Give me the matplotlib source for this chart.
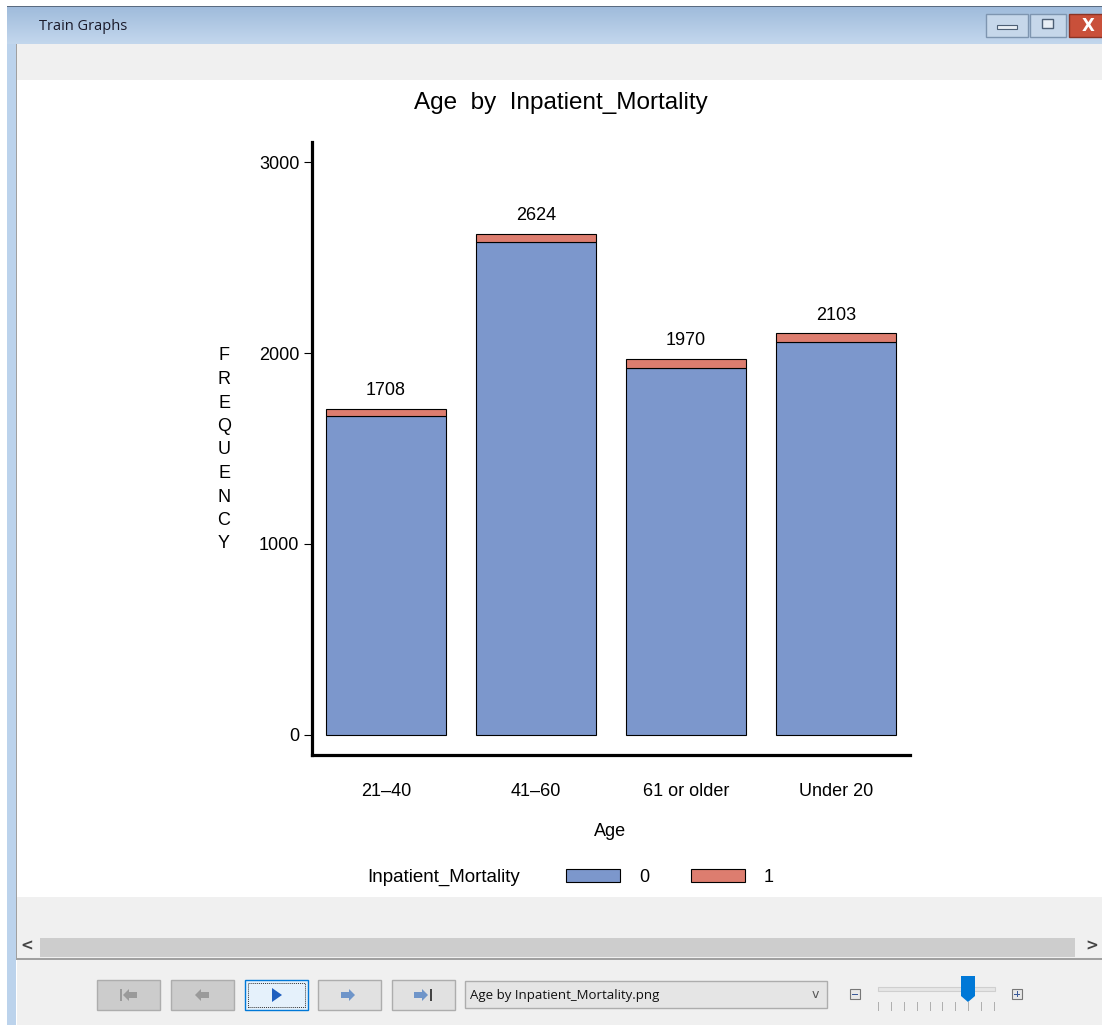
import numpy as np
import matplotlib
matplotlib.use("Agg")
import matplotlib.pyplot as plt
from matplotlib.patches import Rectangle, Polygon

# data
age_groups = ["21\u201240", "41\u201260", "61 or older", "Under 20"]
totals = [1708, 2624, 1970, 2103]
died = [40, 45, 50, 45]          # Inpatient_Mortality = 1
survived = [t - d for t, d in zip(totals, died)]   # Inpatient_Mortality = 0
mortality_levels = ["0", "1"]
yticks = [0, 1000, 2000, 3000]

BLUE = "#7c97cc"
RED = "#dd7d6f"

W, H = 1102, 1025
plt.rcParams["font.family"] = ["Liberation Sans", "DejaVu Sans"]

fig = plt.figure(figsize=(W / 100, H / 100), dpi=100)
fig.patch.set_facecolor("white")


def box(x, y, w, h, **kw):
    """rectangle in screen pixels, origin top-left"""
    r = Rectangle((x / W, 1 - (y + h) / H), w / W, h / H,
                  transform=fig.transFigure, **kw)
    fig.add_artist(r)
    return r


def poly(pts, **kw):
    p = Polygon([(x / W, 1 - y / H) for x, y in pts], closed=True,
                transform=fig.transFigure, **kw)
    fig.add_artist(p)
    return p


def txt(x, y, s, **kw):
    return fig.text(x / W, 1 - y / H, s, **kw)


# ---- window chrome ----
# title bar with a vertical gradient
grad = np.linspace(0, 1, 64).reshape(-1, 1)
cax = fig.add_axes([7 / W, 1 - 44 / H, (W - 7) / W, 38 / H])
cax.imshow(grad, aspect="auto", cmap=matplotlib.colors.LinearSegmentedColormap.from_list(
    "tb", ["#9fbbdb", "#c3d7ed"]), extent=[0, 1, 0, 1])
cax.axis("off")
box(7, 6, W - 7, 1, color="#5a6b80", lw=0)
box(7, 44, 9, H - 44, color="#bcd3ec", lw=0)
txt(39, 26, "Train Graphs", fontsize=10.5, va="center", color="#1a1a2a",
    family=["Open Sans", "DejaVu Sans"])

# min / max / close buttons
box(986, 14, 42, 23, facecolor="#c6d7ea", edgecolor="#7e95b0", lw=1)
box(997, 25, 20, 4, facecolor="#e8eef5", edgecolor="#4d5f75", lw=0.8)
box(1030, 14, 36, 23, facecolor="#c6d7ea", edgecolor="#7e95b0", lw=1)
box(1042, 19, 11, 9, facecolor="#e8eef5", edgecolor="#4d5f75", lw=1)
box(1069, 14, 40, 23, facecolor="#c9503a", edgecolor="#8a3325", lw=1)
txt(1088, 26, "X", fontsize=12, fontweight="bold", color="white",
    ha="center", va="center", family=["DejaVu Sans"])

# grey panels around the graph
box(16, 44, W - 16, 36, color="#f0f0f0", lw=0)
box(16, 897, W - 16, 40, color="#f0f0f0", lw=0)
box(16, 937, W - 16, 21, color="#f0f0f0", lw=0)
box(40, 938, 1035, 19, color="#cdcdcd", lw=0)
txt(27, 946, "<", fontsize=11, ha="center", va="center", color="#444444",
    fontweight="bold", family=["DejaVu Sans"])
txt(1092, 946, ">", fontsize=11, ha="center", va="center", color="#444444",
    fontweight="bold", family=["DejaVu Sans"])
box(16, 958, W - 16, 1.5, color="#a0a0a0", lw=0)
box(15.5, 44, 1.2, 915, color="#a0a0a0", lw=0)
box(17, 960, W - 17, H - 960, color="#f0f0f0", lw=0)

# bottom toolbar buttons
btn_x = [97, 171, 245, 318, 392]
for i, bx in enumerate(btn_x):
    if i == 2:
        box(bx, 980, 63, 30, facecolor="#e5f1fb", edgecolor="#0078d7", lw=1)
        box(bx + 3, 983, 57, 24, facecolor="none", edgecolor="#333333",
            lw=0.7, ls=(0, (1, 1)))
    else:
        box(bx, 980, 63, 30, facecolor="#e1e1e1" if i > 2 else "#cccccc",
            edgecolor="#adadad", lw=1)
grey, blu = "#9a9a9a", "#6f95c9"
# |<-  and  <-
box(120, 989, 2, 12, color=grey, lw=0)
poly([(123, 995), (129, 989), (129, 992), (137, 992), (137, 998), (129, 998), (129, 1001)], color=grey, lw=0)
poly([(195, 995), (201, 989), (201, 992), (209, 992), (209, 998), (201, 998), (201, 1001)], color=grey, lw=0)
# play
poly([(272, 988), (282, 995), (272, 1002)], color="#1f5fbf", lw=0)
# ->  and  ->|
poly([(355, 995), (349, 989), (349, 992), (341, 992), (341, 998), (349, 998), (349, 1001)], color=blu, lw=0)
poly([(428, 995), (422, 989), (422, 992), (414, 992), (414, 998), (422, 998), (422, 1001)], color=blu, lw=0)
box(430, 989, 2, 12, color="#444444", lw=0)

# combo box
box(465, 981, 362, 27, facecolor="#e5e5e5", edgecolor="#adadad", lw=1)
txt(470, 995, "Age by Inpatient_Mortality.png", fontsize=9.5, va="center",
    color="#111111", family=["Open Sans", "DejaVu Sans"])
txt(815, 995, "v", fontsize=9, va="center", ha="center", color="#555555",
    family=["DejaVu Sans"])

# zoom slider
box(850, 989, 10, 10, facecolor="#e8e8e8", edgecolor="#777777", lw=0.8)
box(852, 993.5, 6, 1, color="#3a5a9a", lw=0)
box(1012, 989, 10, 10, facecolor="#e8e8e8", edgecolor="#777777", lw=0.8)
box(1014, 993.5, 6, 1, color="#3a5a9a", lw=0)
box(1016.5, 991, 1, 6, color="#3a5a9a", lw=0)
box(878, 987, 117, 4, facecolor="#e6e6e6", edgecolor="#cfcfcf", lw=0.8)
for tx in np.linspace(878, 994, 10).round():
    box(tx, 1002, 1, 9, color="#b0b0b0", lw=0)
poly([(961, 976), (975, 976), (975, 996), (968, 1002), (961, 996)],
     color="#0078d7", lw=0)

# ---- the chart itself ----
ax = fig.add_axes([312 / W, 1 - 755 / H, (910 - 312) / W, (755 - 142) / H])
ax.patch.set_visible(False)
x = np.arange(len(age_groups))
b0 = ax.bar(x, survived, width=0.8, color=BLUE, edgecolor="black", lw=0.8,
            label=mortality_levels[0])
b1 = ax.bar(x, died, width=0.8, bottom=survived, color=RED, edgecolor="black",
            lw=0.8, label=mortality_levels[1])
for xi, t in zip(x, totals):
    ax.annotate(str(t), (xi, t), xytext=(0, 7), textcoords="offset points",
                ha="center", va="bottom", fontsize=13)

ax.set_xlim(-0.493, 3.493)
ax.set_ylim(-105, 3105)
ax.set_xticks(x)
ax.set_xticklabels(age_groups, fontsize=13)
ax.tick_params(axis="x", length=0, pad=20)
ax.set_yticks(yticks)
ax.set_yticklabels([str(v) for v in yticks], fontsize=13)
ax.tick_params(axis="y", length=6, width=0.8, pad=3)
for s in ["top", "right"]:
    ax.spines[s].set_visible(False)
for s in ["left", "bottom"]:
    ax.spines[s].set_linewidth(2.3)

txt(561, 103, "Age  by  Inpatient_Mortality", fontsize=17.5, ha="center", va="center")
txt(610, 832, "Age", fontsize=13, ha="center", va="center")
txt(224, 450, "\n".join("FREQUENCY"), fontsize=13, ha="center", va="center",
    linespacing=1.5)

txt(367, 877, "Inpatient_Mortality", fontsize=13.5, va="center")
leg = ax.legend(handles=[b0, b1], ncol=2, frameon=False, fontsize=13,
                handlelength=3.0, handleheight=0.75, handletextpad=1.05,
                columnspacing=2.3, loc="center left",
                bbox_to_anchor=(557 / W, 1 - 877 / H),
                bbox_transform=fig.transFigure, borderpad=0)

fig.savefig("out.png", dpi=100)
